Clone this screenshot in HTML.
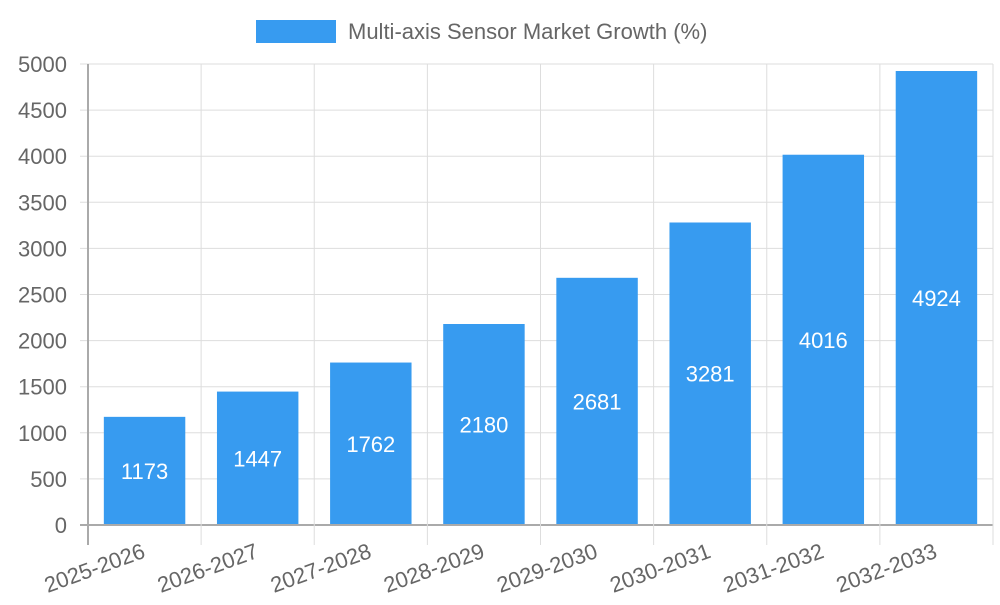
<!DOCTYPE html>
<html><head><meta charset="utf-8"><style>
body{margin:0;background:#fff;font-family:"Liberation Sans",sans-serif}
svg text{font-family:"Liberation Sans",sans-serif}
</style></head><body>
<svg id="c" width="1000" height="600">
<rect x="256" y="20" width="80" height="23" fill="#379bf0"/>
<text x="348" y="39" font-size="22" fill="#666">Multi-axis Sensor Market Growth (%)</text>
<g id="grid"></g><g id="bars"></g><g id="labels"></g>
</svg>
<script>
const categories=["2025-2026","2026-2027","2027-2028","2028-2029","2029-2030","2030-2031","2031-2032","2032-2033"];
const values=[1173,1447,1762,2180,2681,3281,4016,4924];
const yTicks=[0,500,1000,1500,2000,2500,3000,3500,4000,4500,5000];
const L=88,R=993,T=64,B=525,yMax=5000;
const NS="http://www.w3.org/2000/svg";
const cw=(R-L)/categories.length;
const y=v=>B-(v/yMax)*(B-T);
const xc=i=>L+cw*(i+0.5);
function mk(tag,attrs,parent,txt){const e=document.createElementNS(NS,tag);for(const k in attrs)e.setAttribute(k,attrs[k]);if(txt!==undefined)e.textContent=txt;document.getElementById(parent).appendChild(e);return e;}
yTicks.forEach(t=>{
 const g=mk('line',{x1:80,x2:R,y1:y(t),y2:y(t),stroke:t===0?'#aaa':'#ddd','stroke-width':t===0?2:1},'grid');
 
 
 const tx=mk('text',{x:67,y:y(t)+8,'text-anchor':'end','font-size':22,fill:'#666'},'labels',t);
 
 
});
for(let i=0;i<=categories.length;i++){
 const gx=L+cw*i;
 const g=mk('line',{x1:gx,x2:gx,y1:T,y2:545,stroke:i===0?'#aaa':'#ddd','stroke-width':i===0?2:1},'grid');
 
 
}
const bw=cw*0.72;
values.forEach((v,i)=>{
 const r=mk('rect',{x:xc(i)-bw/2,y:y(v),width:bw,height:B-y(v)-1,fill:'#379bf0'},'bars');
 
 
 const t=mk('text',{x:xc(i),y:(y(v)+B)/2+8,'text-anchor':'middle','font-size':22,fill:'#fff'},'labels',v);
 
 
 const cx=xc(i)+2,cy=557;
 const xl=mk('text',{x:cx,y:cy,'text-anchor':'end','font-size':22,fill:'#666',transform:`rotate(-20 ${cx} ${cy})`},'labels',categories[i]);
 
 
});
</script>
</body></html>
